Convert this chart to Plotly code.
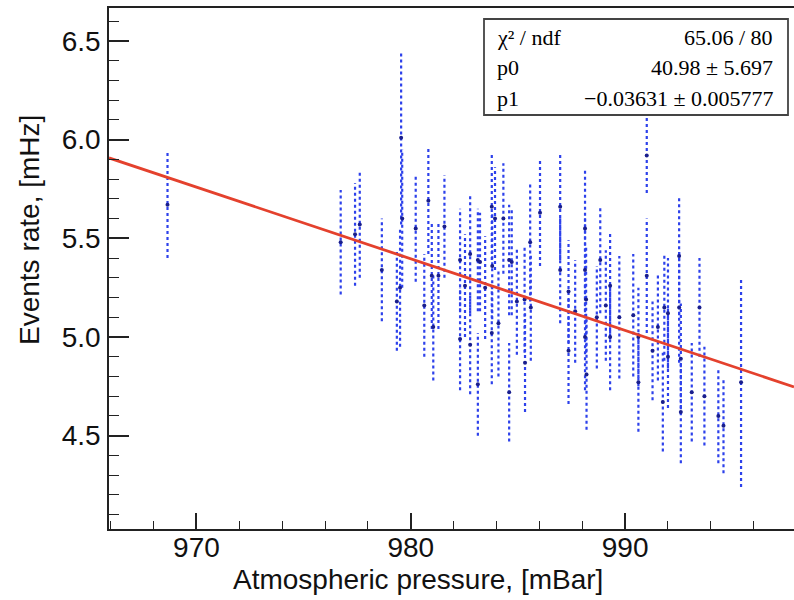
import plotly.graph_objects as go

# ---- data ----
pressure = [968.65, 976.73, 977.40, 977.62, 978.65, 979.35, 979.55, 979.60, 979.50, 980.23,
            980.63, 980.82, 980.98, 981.05, 981.29, 981.57, 982.30, 982.30, 982.53, 982.77,
            982.77, 983.13, 983.13, 983.23, 983.47, 983.78, 983.80, 983.78, 983.93, 984.09,
            984.32, 984.59, 984.59, 984.71, 984.95, 985.31, 985.33, 985.57, 985.60, 986.03,
            986.97, 986.97, 987.36, 987.36, 987.67, 988.13, 988.13, 988.18, 988.13, 988.20,
            988.68, 988.84, 989.10, 989.30, 989.30, 989.73, 990.38, 990.62, 990.62, 991.01,
            991.01, 991.28, 991.53, 991.76, 991.83, 992.00, 992.00, 992.52, 992.52, 992.60,
            992.60, 993.11, 993.47, 993.70, 994.35, 994.59, 995.41]
rate = [5.67, 5.48, 5.52, 5.57, 5.34, 5.18, 6.01, 5.60, 5.25, 5.55,
        5.16, 5.69, 5.31, 5.05, 5.31, 5.56, 5.39, 4.99, 5.26, 5.42,
        4.96, 5.39, 4.76, 5.38, 5.25, 5.66, 5.36, 5.02, 5.60, 5.07,
        5.60, 5.39, 4.72, 5.38, 5.18, 5.19, 4.87, 5.48, 5.15, 5.63,
        5.66, 5.34, 5.23, 4.93, 5.13, 5.55, 5.34, 5.19, 5.00, 4.81,
        5.10, 5.39, 5.16, 5.26, 5.00, 5.10, 5.11, 4.77, 5.00, 5.92,
        5.31, 4.93, 5.05, 4.67, 5.15, 5.12, 4.90, 5.41, 5.15, 4.89,
        4.62, 4.72, 5.15, 4.70, 4.60, 4.55, 4.77]
rate_err = [0.27, 0.265, 0.26, 0.27, 0.26, 0.25, 0.44, 0.35, 0.30, 0.27,
            0.26, 0.27, 0.27, 0.27, 0.27, 0.26, 0.26, 0.26, 0.26, 0.30,
            0.25, 0.26, 0.26, 0.25, 0.26, 0.27, 0.27, 0.26, 0.26, 0.27,
            0.28, 0.28, 0.25, 0.27, 0.27, 0.27, 0.25, 0.30, 0.27, 0.27,
            0.27, 0.27, 0.26, 0.27, 0.26, 0.30, 0.27, 0.27, 0.27, 0.28,
            0.26, 0.27, 0.28, 0.27, 0.27, 0.31, 0.31, 0.25, 0.25, 0.19,
            0.29, 0.25, 0.27, 0.25, 0.27, 0.28, 0.26, 0.30, 0.28, 0.28,
            0.26, 0.25, 0.25, 0.25, 0.24, 0.24, 0.53]

# fit parameters (pol1: p0 + p1*x)
p0 = 40.98
p1 = -0.03631

x_range = [965.92, 997.88]
y_range = [4.027, 6.667]
x_ticks = [970, 980, 990]
y_ticks = [4.5, 5.0, 5.5, 6.0, 6.5]
y_tick_labels = ["4.5", "5.0", "5.5", "6.0", "6.5"]

stat_labels = ["χ² / ndf", "p0", "p1"]
stat_values = ["65.06 / 80", "40.98 ± 5.697", "−0.03631 ± 0.005777"]

x_title = "Atmospheric pressure, [mBar]"
y_title = "Events rate, [mHz]"

# ---- layout geometry (pixels) ----
W, H = 794, 600
L, R, T, B = 109, 0, 8, 71
PW, PH = W - L - R, H - T - B


def px(xp):
    return (xp - L) / PW


def py(yp):
    return (H - B - yp) / PH


# error-bar segments
seg_x, seg_y = [], []
for xv, yv, ev in zip(pressure, rate, rate_err):
    seg_x += [xv, xv, None]
    seg_y += [yv - ev, yv + ev, None]

fig = go.Figure()
fig.add_trace(go.Scatter(x=seg_x, y=seg_y, mode="lines",
                         line=dict(color="rgb(45,65,235)", width=2.2, dash="dot"),
                         hoverinfo="skip", showlegend=False))
fig.add_trace(go.Scatter(x=pressure, y=rate, mode="markers",
                         marker=dict(color="rgb(25,30,140)", size=4),
                         showlegend=False))
fit_x = list(x_range)
fit_y = [p0 + p1 * v for v in fit_x]
fig.add_trace(go.Scatter(x=fit_x, y=fit_y, mode="lines",
                         line=dict(color="rgb(228,65,45)", width=2.8),
                         showlegend=False))

axis_font = dict(family="Liberation Sans, Arial, sans-serif", size=28, color="#111")

fig.update_layout(
    width=W, height=H,
    margin=dict(l=L, r=R, t=T, b=B, pad=0),
    paper_bgcolor="white", plot_bgcolor="white",
    showlegend=False,
    xaxis=dict(range=x_range, tickmode="array", tickvals=x_ticks,
               ticktext=[str(v) for v in x_ticks],
               ticks="inside", ticklen=16, tickwidth=1.5, tickcolor="#222",
               minor=dict(dtick=2, tick0=966, ticks="inside", ticklen=8,
                          tickwidth=1.2, tickcolor="#222", showgrid=False),
               showgrid=False, zeroline=False,
               showline=True, linecolor="#222", linewidth=1.5, mirror=True,
               tickfont=axis_font, ticklabelstandoff=-7),
    yaxis=dict(range=y_range, tickmode="array", tickvals=y_ticks,
               ticktext=y_tick_labels,
               ticks="inside", ticklen=20, tickwidth=1.5, tickcolor="#222",
               minor=dict(dtick=0.1, tick0=4.0, ticks="inside", ticklen=10,
                          tickwidth=1.2, tickcolor="#222", showgrid=False),
               showgrid=False, zeroline=False,
               showline=True, linecolor="#222", linewidth=1.5, mirror=False,
               tickfont=axis_font, ticklabelstandoff=1),
)

# axis titles (ROOT style: aligned to axis end)
fig.add_annotation(text=x_title, xref="paper", yref="paper",
                   x=px(605), y=py(579), xanchor="right", yanchor="middle",
                   showarrow=False, font=axis_font)
fig.add_annotation(text=y_title, xref="paper", yref="paper",
                   x=px(29), y=py(113), xanchor="center", yanchor="top",
                   textangle=-90, showarrow=False, font=axis_font)

# statistics box
fig.add_shape(type="rect", xref="paper", yref="paper",
              x0=px(484), x1=px(788), y0=py(115), y1=py(19),
              fillcolor="white", line=dict(color="#444", width=1.8), layer="above")
stat_font = dict(family="Liberation Serif, Times New Roman, serif", size=22, color="black")
row_y = [37.5, 68, 99]
for lab, val, ry in zip(stat_labels, stat_values, row_y):
    fig.add_annotation(text=lab, xref="paper", yref="paper", x=px(495), y=py(ry),
                       xanchor="left", yanchor="middle", showarrow=False, font=stat_font)
    fig.add_annotation(text=val, xref="paper", yref="paper", x=px(775), y=py(ry),
                       xanchor="right", yanchor="middle", showarrow=False, font=stat_font)

fig.write_html("out.html")
